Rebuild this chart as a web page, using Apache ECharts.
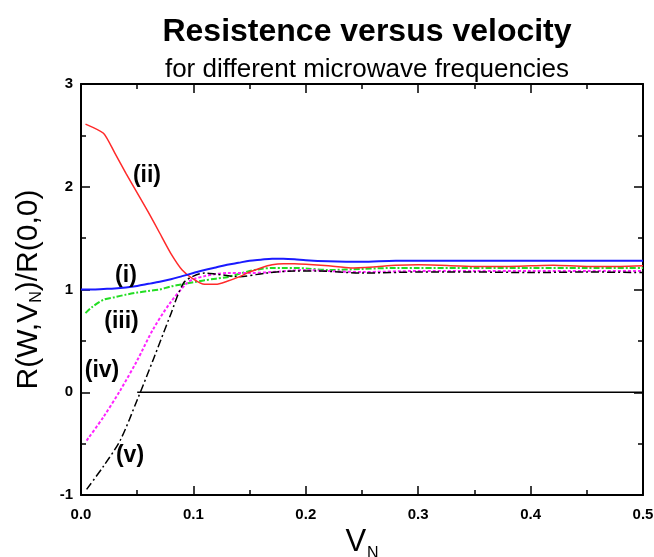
<!DOCTYPE html>
<html>
<head>
<meta charset="utf-8">
<script src="https://cdn.jsdelivr.net/npm/echarts@6/dist/echarts.min.js"></script>
<style>
  html, body { margin: 0; padding: 0; background: #fff; }
  #main { width: 654px; height: 557px; }
</style>
</head>
<body>
<div id="main"></div>
<script>
// curve (i) - blue
var vBlue = [0, 0.01, 0.02, 0.03, 0.04, 0.05, 0.06, 0.07, 0.08, 0.09, 0.1, 0.11, 0.12, 0.13, 0.14, 0.15, 0.16, 0.17, 0.18, 0.19, 0.2, 0.22, 0.25, 0.28, 0.3, 0.35, 0.4, 0.45, 0.5];
var rBlue = [1.0, 1.0, 1.005, 1.01, 1.02, 1.035, 1.055, 1.075, 1.1, 1.13, 1.16, 1.19, 1.215, 1.24, 1.26, 1.28, 1.29, 1.3, 1.3, 1.295, 1.285, 1.275, 1.27, 1.28, 1.28, 1.28, 1.28, 1.28, 1.28];
// curve (ii) - red
var vRed = [0.004, 0.02, 0.03, 0.04, 0.05, 0.06, 0.07, 0.08, 0.09, 0.1, 0.11, 0.12, 0.13, 0.14, 0.15, 0.16, 0.17, 0.18, 0.19, 0.2, 0.22, 0.24, 0.26, 0.28, 0.3, 0.32, 0.35, 0.38, 0.4, 0.42, 0.45, 0.48, 0.5];
var rRed = [2.61, 2.52, 2.33, 2.13, 1.94, 1.75, 1.55, 1.35, 1.19, 1.1, 1.05, 1.05, 1.08, 1.12, 1.17, 1.21, 1.24, 1.25, 1.25, 1.245, 1.23, 1.21, 1.22, 1.235, 1.24, 1.235, 1.225, 1.225, 1.23, 1.235, 1.225, 1.225, 1.23];
// curve (iii) - green
var vGreen = [0.004, 0.01, 0.02, 0.03, 0.04, 0.05, 0.06, 0.07, 0.08, 0.09, 0.1, 0.11, 0.12, 0.13, 0.14, 0.15, 0.16, 0.17, 0.18, 0.19, 0.2, 0.22, 0.25, 0.28, 0.3, 0.35, 0.4, 0.45, 0.5];
var rGreen = [0.77, 0.83, 0.9, 0.925, 0.95, 0.97, 0.985, 1.0, 1.03, 1.05, 1.07, 1.09, 1.105, 1.12, 1.15, 1.18, 1.2, 1.21, 1.21, 1.21, 1.205, 1.19, 1.2, 1.21, 1.21, 1.21, 1.21, 1.21, 1.21];
// curve (iv) - magenta
var vMag = [0.005, 0.02, 0.035, 0.05, 0.064, 0.079, 0.094, 0.1, 0.11, 0.12, 0.13, 0.15, 0.17, 0.2, 0.22, 0.25, 0.3, 0.35, 0.4, 0.45, 0.5];
var rMag = [-0.47, -0.24, 0.02, 0.31, 0.61, 0.865, 1.06, 1.1, 1.13, 1.15, 1.16, 1.16, 1.17, 1.19, 1.18, 1.17, 1.18, 1.18, 1.18, 1.18, 1.18];
// curve (v) - black
var vBlack = [0.005, 0.02, 0.035, 0.05, 0.064, 0.079, 0.091, 0.1, 0.11, 0.12, 0.14, 0.165, 0.19, 0.21, 0.25, 0.3, 0.35, 0.4, 0.45, 0.5];
var rBlack = [-0.945, -0.72, -0.465, -0.075, 0.31, 0.735, 1.06, 1.13, 1.16, 1.15, 1.125, 1.16, 1.18, 1.18, 1.16, 1.17, 1.17, 1.165, 1.17, 1.165];
// zero line
var vZero = [0.05, 0.5];
var rZero = [0, 0];
// curve labels
var labelNames = ['(i)', '(ii)', '(iii)', '(iv)', '(v)'];
var labelV = [0.040, 0.0587, 0.036, 0.0187, 0.0436];
var labelR = [1.13, 2.11, 0.69, 0.21, -0.62];

function pairs(xs, ys) {
  return xs.map(function (x, i) { return [x, ys[i]]; });
}

var myChart = echarts.init(document.getElementById('main'));

var tickStyle = { show: true, inside: true, length: 9, lineStyle: { color: '#000', width: 1.5 } };
var minorStyle = { show: true, splitNumber: 2, length: 5, lineStyle: { color: '#000', width: 1.5 } };
var lineAx = { show: true, onZero: false, lineStyle: { color: '#000', width: 2 } };

myChart.setOption({
  animation: false,
  title: [{
    text: 'Resistence versus velocity',
    left: 362, top: 11, textAlign: 'center',
    textStyle: { fontFamily: 'Liberation Sans', fontWeight: 'bold', fontSize: 32, color: '#000' }
  }, {
    text: 'for different microwave frequencies',
    left: 362, top: 52, textAlign: 'center',
    textStyle: { fontFamily: 'Liberation Sans', fontWeight: 'normal', fontSize: 26, color: '#000' }
  }],
  grid: { left: 81, right: 11, top: 84, bottom: 62, outerBoundsMode: 'none', containLabel: false },
  xAxis: [{
    type: 'value', min: 0, max: 0.5, interval: 0.1,
    axisLine: lineAx, axisTick: tickStyle, minorTick: minorStyle,
    splitLine: { show: false },
    axisLabel: {
      margin: 12, color: '#000', fontSize: 15, fontWeight: 'bold', fontFamily: 'Liberation Sans',
      formatter: function (v) { return v.toFixed(1); }
    },
    name: '{v|V}{s|N}', nameLocation: 'middle', nameGap: 17,
    nameTextStyle: {
      rich: {
        v: { fontSize: 31, fontFamily: 'Liberation Sans', color: '#000', verticalAlign: 'top' },
        s: { fontSize: 16, fontFamily: 'Liberation Sans', color: '#000', padding: [19, 0, 0, 1] }
      }
    }
  }, {
    type: 'value', min: 0, max: 0.5, interval: 0.1, position: 'top',
    axisLine: lineAx, axisTick: tickStyle, minorTick: minorStyle,
    splitLine: { show: false }, axisLabel: { show: false }
  }],
  yAxis: [{
    type: 'value', min: -1, max: 3, interval: 1,
    axisLine: lineAx, axisTick: tickStyle, minorTick: minorStyle,
    splitLine: { show: false },
    axisLabel: { margin: 8, color: '#000', fontSize: 15, fontWeight: 'bold', fontFamily: 'Liberation Sans' },
    name: '{r|R(W,V}{s|N}{r|)/R(0,0)}', nameLocation: 'middle', nameGap: 36, nameRotate: 90,
    nameTextStyle: {
      rich: {
        r: { fontSize: 30, fontFamily: 'Liberation Sans', color: '#000' },
        s: { fontSize: 16, fontFamily: 'Liberation Sans', color: '#000', padding: [16, 0, 0, 0] }
      }
    }
  }, {
    type: 'value', min: -1, max: 3, interval: 1, position: 'right',
    axisLine: lineAx, axisTick: tickStyle, minorTick: minorStyle,
    splitLine: { show: false }, axisLabel: { show: false }
  }],
  series: [{
    name: '(i)', type: 'line', data: pairs(vBlue, rBlue), showSymbol: false, smooth: 0.3,
    lineStyle: { color: '#1a1aff', width: 2 }, z: 5
  }, {
    name: '(ii)', type: 'line', data: pairs(vRed, rRed), showSymbol: false, smooth: 0.2,
    lineStyle: { color: '#ff2a2a', width: 1.5 }, z: 4
  }, {
    name: '(iii)', type: 'line', data: pairs(vGreen, rGreen), showSymbol: false, smooth: 0.3,
    lineStyle: { color: '#22dd22', width: 2, type: [6, 2, 2, 2] }, z: 3
  }, {
    name: '(iv)', type: 'line', data: pairs(vMag, rMag), showSymbol: false, smooth: 0.3,
    lineStyle: { color: '#ff22ff', width: 2, type: [3, 2] }, z: 3
  }, {
    name: '(v)', type: 'line', data: pairs(vBlack, rBlack), showSymbol: false, smooth: 0.3,
    lineStyle: { color: '#000', width: 1.5, type: [8, 3, 2, 3] }, z: 3
  }, {
    name: 'zero', type: 'line', data: pairs(vZero, rZero), showSymbol: false,
    lineStyle: { color: '#000', width: 1.5 }, z: 2
  }, {
    name: 'labels', type: 'custom',
    data: labelV.map(function (v, i) { return [v, labelR[i], i]; }),
    renderItem: function (params, api) {
      var p = api.coord([api.value(0), api.value(1)]);
      return {
        type: 'text', x: p[0], y: p[1],
        style: {
          text: labelNames[api.value(2)], fill: '#000',
          font: 'bold 23px "Liberation Sans"', align: 'center', verticalAlign: 'middle'
        }
      };
    },
    z: 6
  }]
});
</script>
</body>
</html>
